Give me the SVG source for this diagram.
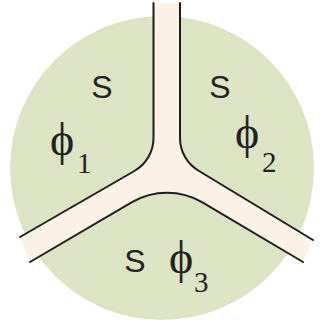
<svg xmlns="http://www.w3.org/2000/svg" width="320" height="330" viewBox="0 0 320 330">
<style>
.ln{fill:none;stroke:#1e1e1e;stroke-width:2;stroke-linecap:round}
.s{font-family:"Liberation Sans",Arial,sans-serif;font-size:32px;fill:#222}
.phi{font-family:"Liberation Serif","DejaVu Serif","Times New Roman",serif;font-size:46px;fill:#222}
.sub{font-family:"Liberation Serif","Times New Roman",serif;font-size:29px;fill:#222}
</style>
<rect width="320" height="330" fill="#ffffff"/>
<g id="disc">
<circle cx="162" cy="168" r="152" fill="#dde4c3"/>
</g>
<g id="channel">
<path d="M153.5,3 V138 A38,38 0 0 1 134.4,171 L20,237 L30,262 L132,202.2 A70,70 0 0 1 202,202.2 L303,262 L313,240 L199.05,171 A38,38 0 0 1 180,138 V3 Z" fill="#fbf1e4"/>
</g>
<g id="connectors">
<path class="ln" d="M153.5,3 V138 A38,38 0 0 1 134.4,171 L20,237"/>
<path class="ln" d="M180,3 V138 A38,38 0 0 0 199.05,171 L313,240"/>
<path class="ln" d="M30,262 L132,202.2 A70,70 0 0 1 202,202.2 L303,262"/>
</g>
<g id="region1">
<text class="s" x="102" y="98" text-anchor="middle">S</text>
<text class="phi" x="62" y="155" text-anchor="middle">ϕ</text>
<text class="sub" x="77" y="173">1</text>
</g>
<g id="region2">
<text class="s" x="220" y="98" text-anchor="middle">S</text>
<text class="phi" x="247" y="148" text-anchor="middle">ϕ</text>
<text class="sub" x="262" y="172">2</text>
</g>
<g id="region3">
<text class="s" x="135" y="272" text-anchor="middle">S</text>
<text class="phi" x="181" y="273" text-anchor="middle">ϕ</text>
<text class="sub" x="194" y="292">3</text>
</g>
</svg>
